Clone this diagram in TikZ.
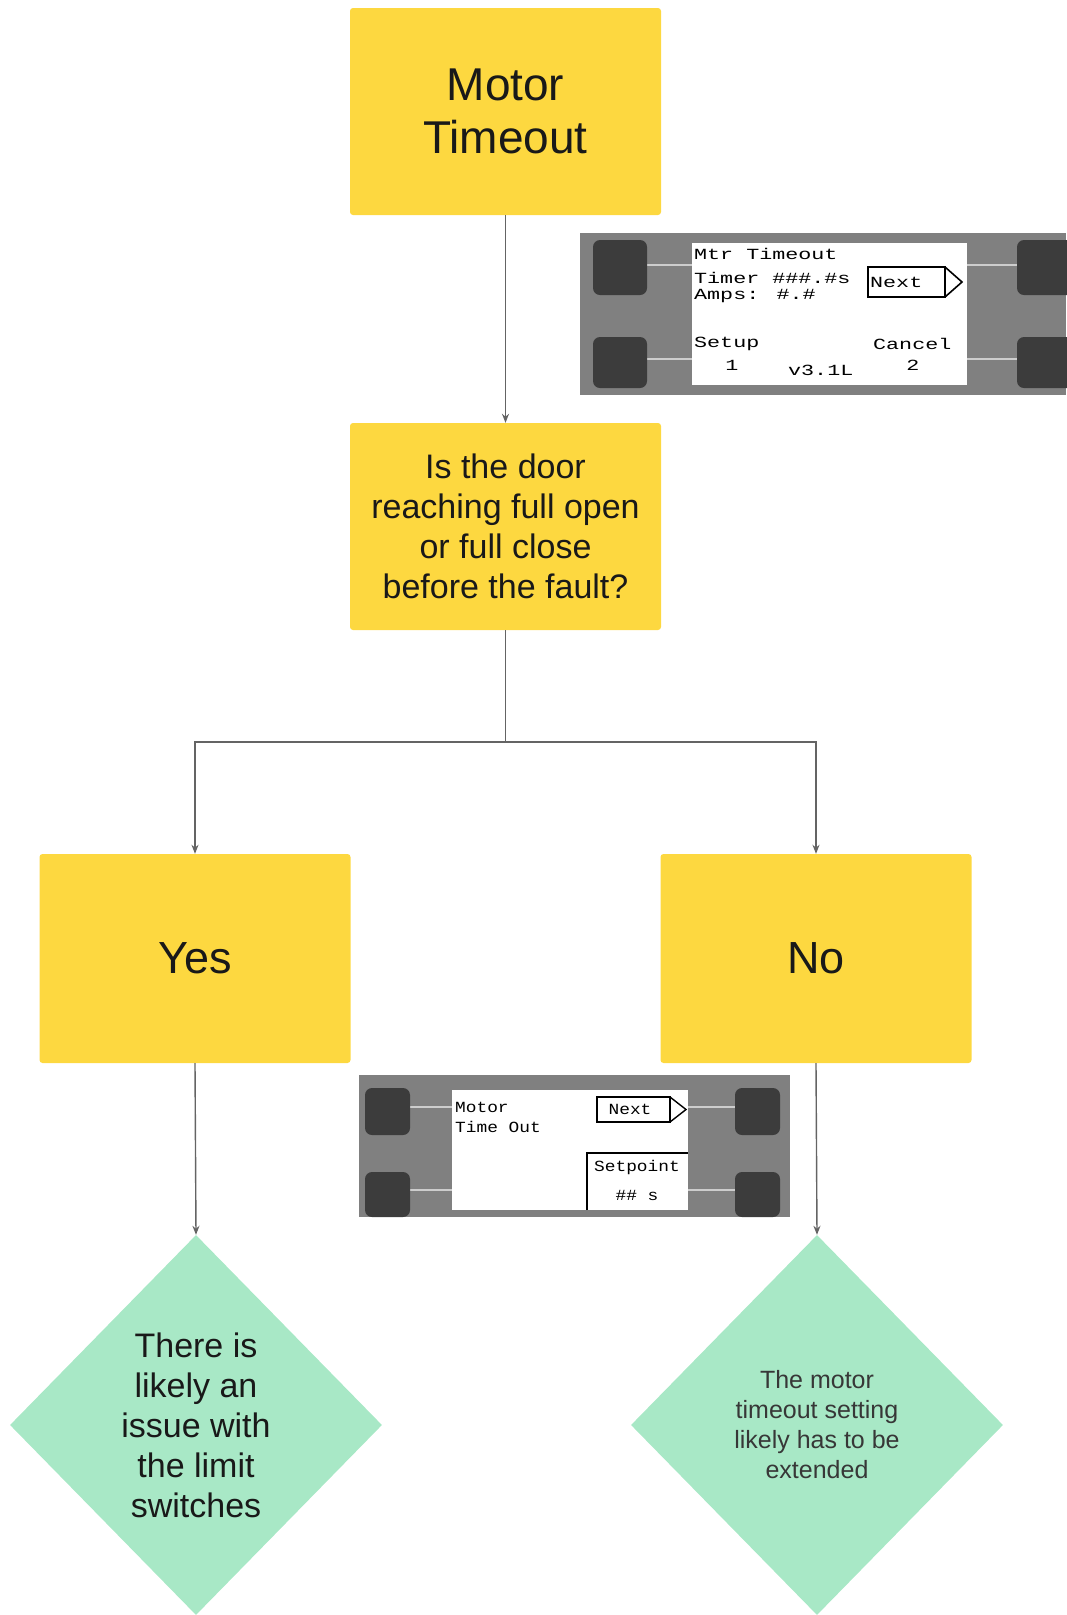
\documentclass[tikz,border=0pt]{standalone}
\usepackage{fontspec}
\setmainfont{Liberation Sans}
\newfontfamily\lcdfont[FakeStretch=1.15]{Liberation Mono}
\newfontfamily\lcdwide[FakeStretch=1.4]{Liberation Mono}
\usetikzlibrary{shapes.geometric,arrows.meta}
\definecolor{boxyellow}{RGB}{253,216,64}
\definecolor{diagreen}{RGB}{168,232,198}
\definecolor{conn}{RGB}{100,100,100}
\definecolor{panelgray}{RGB}{128,128,128}
\definecolor{btngray}{RGB}{60,60,60}
\definecolor{wire}{RGB}{205,205,205}
\definecolor{txt}{RGB}{25,25,25}
\tikzset{
  ybox/.style={fill=boxyellow, rounded corners=3pt, minimum width=311pt, minimum height=207pt, align=center, text=txt, inner sep=0pt},
  gdia/.style={diamond, fill=diagreen, minimum width=372pt, minimum height=380pt, align=center, text=txt, inner sep=0pt, aspect=1},
  link/.style={draw=conn, line width=1.4pt, -{Stealth[length=9pt,width=7pt]}},
  plain/.style={draw=conn, line width=1.4pt},
  btn/.style={fill=btngray, rounded corners=7pt},
  wireline/.style={draw=wire, line width=2pt},
  lcd/.style={anchor=west, inner sep=0pt, text=black},
}
\begin{document}
\begin{tikzpicture}[x=1pt,y=-1pt]
\useasboundingbox (0,0) rectangle (1066,1615);

% main nodes
\node[ybox, font=\fontsize{46}{53}\selectfont] (mt) at (505.5,111.5) {Motor\\Timeout};
\node[ybox, font=\fontsize{34}{40}\selectfont] (q) at (505.5,526.5) {Is the door\\reaching full open\\or full close\\before the fault?};
\node[ybox, minimum height=209pt, font=\fontsize{45}{50}\selectfont] (yes) at (195,958.5) {Yes};
\node[ybox, minimum height=209pt, font=\fontsize{45}{50}\selectfont] (no) at (816,958.5) {No};
\node[gdia, font=\fontsize{34}{40}\selectfont] (dl) at (196,1425) {There is\\likely an\\issue with\\the limit\\switches};
\node[gdia, font=\fontsize{25}{30}\selectfont, text={rgb,255:red,55;green,55;blue,55}] (dr) at (817,1425) {The motor\\timeout setting\\likely has to be\\extended};

% connectors
\coordinate (split) at (505.5,742);
\draw[link] (mt.south) -- (q.north);
\draw[plain] (q.south) -- (split);
\draw[link] (split) -| (yes.north);
\draw[link] (split) -| (no.north);
\draw[link] (yes.south) -- (dl.north);
\draw[link] (no.south) -- (dr.north);

% ---- panel 1
\fill[panelgray] (580,233) rectangle (1066,395);
\draw[wireline] (647,265) -- (692,265) (967,265) -- (1017,265);
\draw[wireline] (647,359) -- (692,359) (967,359) -- (1017,359);
\fill[btn] (593,240) rectangle (647,295);
\fill[btn] (593,337) rectangle (647,388);
\fill[btn] (1017,240) rectangle (1075,295);
\fill[btn] (1017,337) rectangle (1075,388);
\fill[white] (692,243) rectangle (967,385);
\begin{scope}[font=\lcdwide\fontsize{15.5}{15.5}\selectfont]
\node[lcd] (p1a) at (694,254) {Mtr Timeout};
\node[lcd] (p1b) at (694,278) {Timer \#\#\#.\#s};
\node[lcd] (p1c) at (694,296) {Amps: \#.\#};
\node[lcd] (p1n) at (870,282) {Next};
\node[lcd] (p1s) at (694,344) {Setup};
\node[anchor=center, inner sep=0pt] (p1s1) at (732,365) {1};
\node[lcd] (p1v) at (788,370) {v3.1L};
\node[lcd] (p1c2) at (873,344) {Cancel};
\node[anchor=center, inner sep=0pt] (p1c3) at (913,365) {2};
\end{scope}
\draw[black, line width=1.6pt] (868,267) -- (945,267) -- (945,297) -- (868,297) -- cycle;
\draw[black, line width=1.6pt, line join=miter] (945,267) -- (962,282) -- (945,297);

% ---- panel 2
\fill[panelgray] (359,1075) rectangle (790,1217);
\draw[wireline] (410,1107) -- (452,1107) (688,1107) -- (735,1107);
\draw[wireline] (410,1190) -- (452,1190) (688,1190) -- (735,1190);
\fill[btn] (365,1088) rectangle (410,1135);
\fill[btn] (365,1172) rectangle (410,1217);
\fill[btn] (735,1088) rectangle (780,1135);
\fill[btn] (735,1172) rectangle (780,1217);
\fill[white] (452,1090) rectangle (688,1210);
\begin{scope}[font=\lcdfont\fontsize{15.5}{15.5}\selectfont]
\node[lcd] (p2a) at (455,1107) {Motor};
\node[lcd] (p2b) at (455,1127) {Time Out};
\node[anchor=center, inner sep=0pt] (p2n) at (630,1109) {Next};
\node[anchor=center, inner sep=0pt] (p2s) at (637,1167) {Setpoint};
\node[anchor=center, inner sep=0pt] (p2v) at (637,1195) {\#\# s};
\end{scope}
\draw[black, line width=1.4pt] (597,1097) -- (670,1097) -- (670,1122) -- (597,1122) -- cycle;
\draw[black, line width=1.4pt] (670,1097) -- (686,1109.5) -- (670,1122);
\draw[black, line width=1.4pt] (587,1210) -- (587,1153) -- (688,1153);
\end{tikzpicture}
\end{document}
